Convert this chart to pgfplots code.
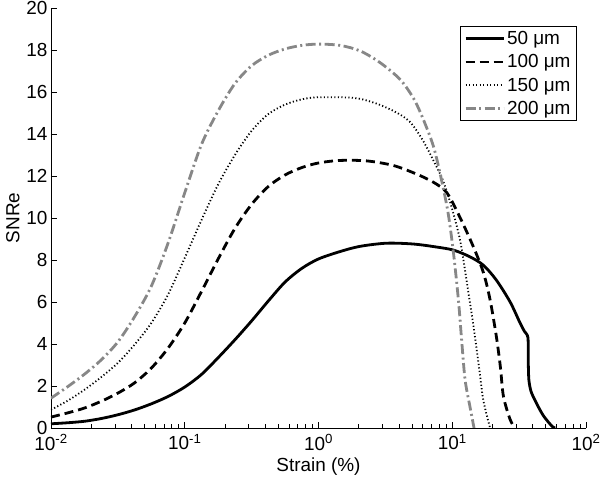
\documentclass[border=0pt]{standalone}
\usepackage{pgfplots}
\pgfplotsset{compat=1.18}
\usepackage{fontspec}
\setmainfont{Liberation Sans}
\definecolor{lgray}{RGB}{135,135,135}
\begin{document}
\begin{tikzpicture}[font=\fontsize{19}{21}\selectfont]
\path[use as bounding box] (-51bp,-55bp) rectangle (549bp,428bp);
\begin{axis}[
 scale only axis, width=535bp, height=420bp,
 at={(0,0)}, anchor=south west,
 xmode=log, xmin=0.01, xmax=100, ymin=0, ymax=20,
 axis x line*=bottom, axis y line*=left,
 xtick={0.01,0.1,1,10,100},
 xticklabels={10\textsuperscript{-2},10\textsuperscript{-1},10\textsuperscript{0},10\textsuperscript{1},10\textsuperscript{2}},
 ytick={0,2,...,20},
 /pgf/number format/assume math mode=true,
 tick align=inside,
 major tick length=6bp, minor tick length=3.5bp,
 tick style={black, line width=0.6bp},
 axis line style={black, line width=0.8bp},
 tick label style={font=\fontsize{19}{21}\selectfont},
 xticklabel style={yshift=-3bp},
 label style={font=\fontsize{19}{21}\selectfont},
 xlabel={Strain (\%)}, ylabel={SNRe},
 xlabel style={yshift=-0.5bp},
 legend style={at={(rel axis cs:0.983,0.957)}, anchor=north east, draw=black, line width=0.8bp, font=\fontsize{19}{21}\selectfont, inner xsep=4bp, inner ysep=3bp, row sep=4.5bp},
 legend cell align=left,
 legend image code/.code={\draw[#1] (0bp,0bp) -- (38bp,0bp);},
]
\addplot[black, line width=2.8bp, smooth] coordinates {
(0.01,0.2) (0.01334,0.25) (0.01778,0.32) (0.02371,0.45) (0.03162,0.63) (0.04217,0.86)
(0.05623,1.15) (0.07499,1.5) (0.1,1.95) (0.1334,2.55) (0.1778,3.35) (0.2371,4.2)
(0.3162,5.1) (0.4217,6.05) (0.5623,6.95) (0.7499,7.6) (1.0,8.05)
(1.445,8.4) (2.042,8.65) (3.236,8.8) (5.129,8.76) (7.586,8.62)
(10.23,8.47) (13.58,8.15) (17.10,7.75) (21.38,7.04) (27.10,6.0) (32.14,5.0)
(34.67,4.6) (36.8,4.3) (37.0,3.2) (37.4,2.3) (38.8,1.75) (41.69,1.3)
(44.5,0.95) (47.86,0.6) (52.5,0.27) (56.5,0.05) (58.9,0)
};
\addlegendentry{50 μm}
\addplot[black, line width=2.8bp, dash pattern=on 9bp off 5bp, smooth] coordinates {
(0.01,0.52) (0.01334,0.72) (0.01778,0.95) (0.02371,1.27) (0.03162,1.66) (0.04217,2.15)
(0.05623,2.85) (0.07499,3.8) (0.1,5.0) (0.1334,6.5) (0.1778,8.05) (0.2371,9.5)
(0.3162,10.65) (0.4217,11.5) (0.5623,12.05) (0.7499,12.4) (1.0,12.62)
(1.445,12.74) (2.291,12.72) (3.631,12.5) (5.370,12.1) (7.244,11.7) (9.120,11.2)
(11.48,10.0) (14.45,8.6) (17.10,7.4) (19.19,6.1) (21.38,4.35) (22.91,2.9)
(24.15,1.5) (27.10,0.4) (29.51,0)
};
\addlegendentry{100 μm}
\addplot[black, line width=1.8bp, dash pattern=on 1.2bp off 2.3bp, smooth] coordinates {
(0.01,0.87) (0.01334,1.3) (0.01778,1.82) (0.02371,2.42) (0.03162,3.1) (0.04217,3.97)
(0.05623,5.0) (0.07499,6.35) (0.1,8.1) (0.1334,9.9) (0.1778,11.6) (0.2371,13.0)
(0.3162,14.15) (0.4217,14.95) (0.5623,15.4) (0.7499,15.65) (1.0,15.75)
(1.826,15.72) (2.570,15.5) (3.631,15.1) (4.786,14.6) (6.026,13.7) (7.413,12.6)
(8.511,11.8) (9.908,10.5) (11.48,8.9) (12.88,6.9) (14.45,4.8) (15.85,2.9)
(17.10,1.3) (19.19,0)
};
\addlegendentry{150 μm}
\addplot[lgray, line width=2.8bp, dash pattern=on 10bp off 3.5bp on 2bp off 3.5bp, smooth] coordinates {
(0.01,1.42) (0.01334,1.97) (0.01778,2.56) (0.02371,3.24) (0.03162,4.1) (0.04217,5.3)
(0.05623,6.75) (0.07499,8.8) (0.1,11.2) (0.1334,13.5) (0.1778,15.1) (0.2371,16.4)
(0.3162,17.25) (0.4217,17.75) (0.5623,18.05) (0.7499,18.22) (1.0,18.28) (1.445,18.22)
(2.042,17.96) (2.884,17.4) (4.074,16.6) (5.129,15.7) (6.026,14.75) (7.244,13.4)
(8.318,11.8) (9.333,10.2) (10.23,8.3) (11.12,6.1) (11.75,4.2) (12.47,2.3)
(13.58,1.0) (14.55,0)
};
\addlegendentry{200 μm}
\end{axis}
\end{tikzpicture}
\end{document}
